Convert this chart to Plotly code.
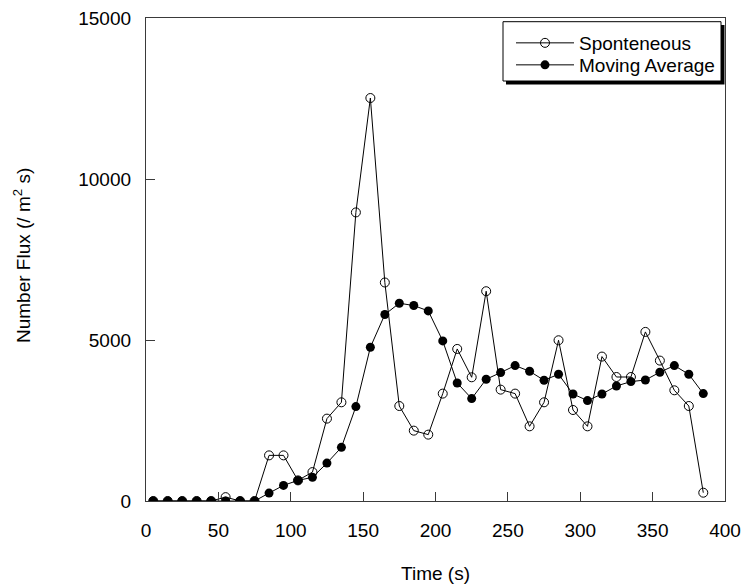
import plotly.graph_objects as go

# Time stamps (s) and number flux (/ m^2 s)
time_s = [5, 15, 25, 35, 45, 55, 65, 75, 85, 95, 105, 115, 125, 135, 145, 155,
          165, 175, 185, 195, 205, 215, 225, 235, 245, 255, 265, 275, 285, 295,
          305, 315, 325, 335, 345, 355, 365, 375, 385]

spontaneous = [0, 0, 0, 0, 0, 120, 0, 0, 1417, 1417, 640, 898, 2558, 3065, 8962, 12515,
               6786, 2950, 2185, 2061, 3335, 4722, 3842, 6515, 3459, 3335, 2319, 3065, 4992, 2826,
               2319, 4485, 3851, 3851, 5251, 4361, 3438, 2950, 258]

moving_avg = [0, 0, 0, 0, 0, 0, 0, 0, 246, 485, 640, 734, 1178, 1666, 2931, 4775,
              5791, 6142, 6070, 5903, 4971, 3665, 3180, 3780, 3988, 4206, 4029, 3749, 3935, 3323,
              3118, 3323, 3572, 3708, 3758, 3998, 4206, 3935, 3335]

x_ticks = [0, 50, 100, 150, 200, 250, 300, 350, 400]
y_ticks = [0, 5000, 10000, 15000]
y_tick_text = ["0", "5000", "10000", "15000"]

FONT = "Liberation Sans, Arial, sans-serif"
FS = 19
W, H = 745, 588
L, R, T, B = 146, 20, 18, 87

pw = W - L - R
ph = H - T - B


def px_to_paper_x(px):
    return (px - L) / pw


def px_to_paper_y(py):
    return (H - B - py) / ph


fig = go.Figure()
fig.add_trace(go.Scatter(
    x=time_s, y=spontaneous, name="Sponteneous", mode="lines+markers",
    line=dict(color="black", width=1), legend="legend",
    marker=dict(symbol="circle-open", size=9, color="black", line=dict(width=1)),
))
fig.add_trace(go.Scatter(
    x=time_s, y=moving_avg, name="Moving Average", mode="lines+markers",
    line=dict(color="black", width=1), legend="legend2",
    marker=dict(symbol="circle", size=9, color="black"),
))

axis_common = dict(
    showgrid=False, zeroline=False, showline=True, linecolor="#3a3a3a", linewidth=1.3,
    mirror=True, ticks="inside", ticklen=9, tickcolor="#3a3a3a", tickwidth=1.2,
    tickfont=dict(family=FONT, size=FS, color="black"), automargin=False,
)

# Legend frame with a drop shadow
fig.add_shape(type="rect", xref="paper", yref="paper",
              x0=px_to_paper_x(506), x1=px_to_paper_x(724.5),
              y0=px_to_paper_y(84.5), y1=px_to_paper_y(25),
              fillcolor="black", line=dict(width=0), layer="above")
fig.add_shape(type="rect", xref="paper", yref="paper",
              x0=px_to_paper_x(503), x1=px_to_paper_x(721),
              y0=px_to_paper_y(81), y1=px_to_paper_y(21.7),
              fillcolor="white", line=dict(color="black", width=1), layer="above")

fig.add_annotation(text="Number Flux (/ m<sup>2</sup> s)", xref="paper", yref="paper",
                   x=px_to_paper_x(22), y=px_to_paper_y(256), textangle=-90,
                   showarrow=False, font=dict(family=FONT, size=FS, color="black"),
                   xanchor="center", yanchor="middle")

legend_common = dict(
    xanchor="left", yanchor="middle", bgcolor="rgba(0,0,0,0)", borderwidth=0,
    font=dict(family=FONT, size=FS, color="black"), itemwidth=58,
)

fig.update_layout(
    width=W, height=H, margin=dict(l=L, r=R, t=T, b=B),
    plot_bgcolor="white", paper_bgcolor="white",
    font=dict(family=FONT, size=FS, color="black"),
    xaxis=dict(range=[0, 400], tickvals=x_ticks, ticklabelstandoff=12,
               title=dict(text="Time (s)", font=dict(family=FONT, size=FS), standoff=26),
               **axis_common),
    yaxis=dict(range=[0, 15000], tickvals=y_ticks, ticktext=y_tick_text,
               ticklabelstandoff=10, **axis_common),
    showlegend=True,
    legend=dict(x=px_to_paper_x(511), y=px_to_paper_y(43), **legend_common),
    legend2=dict(x=px_to_paper_x(511), y=px_to_paper_y(65), **legend_common),
)

fig.write_html("out.html")
